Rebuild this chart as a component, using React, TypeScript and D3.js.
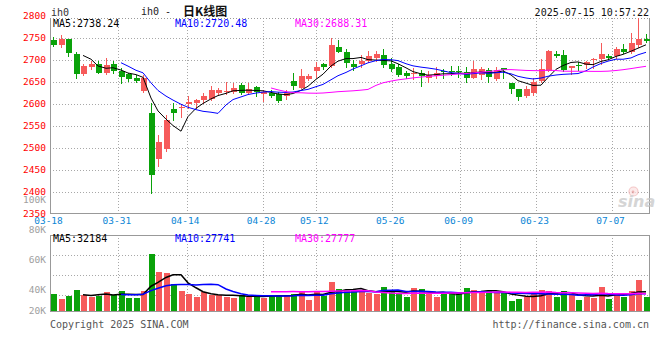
import React from 'react';
import * as d3 from 'd3';

// ---- data ----
const opens = [2745,2733,2747,2713,2668,2685,2692,2670,2691,2674,2668,2660,2630,2580,2475,2498,2589,2590,2599,2603,2608,2611,2624,2627,2627,2643,2626,2639,2622,2626,2623,2619,2652,2637,2657,2676,2691,2687,2730,2718,2691,2691,2698,2705,2711,2691,2683,2671,2668,2670,2659,2663,2674,2675,2676,2672,2660,2665,2677,2657,2681,2647,2634,2619,2626,2653,2675,2714,2711,2681,2689,2689,2700,2702,2709,2708,2725,2719,2733,2748];
const closes = [2734,2748,2715,2668,2687,2691,2671,2689,2674,2661,2657,2653,2658,2439,2514,2564,2580,2594,2605,2608,2619,2632,2632,2630,2637,2624,2634,2628,2627,2619,2606,2626,2641,2664,2664,2685,2685,2734,2719,2693,2685,2698,2709,2714,2689,2680,2665,2663,2671,2664,2665,2671,2672,2672,2673,2659,2680,2680,2662,2677,2677,2634,2615,2634,2651,2680,2721,2708,2677,2686,2686,2696,2702,2714,2704,2725,2719,2738,2748,2743];
const highs = [2752,2757,2748,2719,2690,2697,2697,2704,2697,2681,2671,2666,2665,2603,2530,2575,2603,2600,2618,2611,2626,2642,2637,2651,2647,2648,2647,2641,2632,2632,2627,2632,2670,2680,2668,2695,2694,2749,2745,2725,2700,2711,2720,2720,2725,2704,2691,2675,2681,2677,2674,2683,2679,2687,2686,2685,2697,2685,2681,2683,2681,2647,2634,2641,2659,2702,2723,2721,2723,2686,2695,2698,2704,2738,2714,2729,2736,2761,2795,2758];
const lows = [2732,2730,2708,2660,2667,2679,2670,2668,2671,2648,2653,2650,2628,2397,2460,2494,2564,2571,2590,2590,2602,2609,2623,2623,2624,2622,2623,2618,2606,2615,2605,2611,2633,2636,2655,2661,2679,2685,2718,2685,2677,2685,2695,2698,2685,2674,2664,2659,2656,2641,2651,2660,2660,2666,2662,2651,2659,2657,2651,2655,2660,2624,2609,2615,2621,2651,2674,2706,2674,2668,2677,2681,2681,2691,2702,2704,2715,2715,2730,2742];
const volumes = [37300,34000,36200,40000,36700,35100,36000,38900,36700,39300,34900,34900,39500,64000,52000,51500,43800,39500,37100,35500,38500,36700,36700,35500,34900,36700,35500,36700,34900,36000,36700,36700,37500,38900,33500,38900,36000,45500,40700,40000,39300,39300,38200,37100,42000,40000,37800,35500,41500,40700,37800,35500,37100,37100,38700,41300,40000,37800,39300,38900,37800,32700,34200,35500,38200,40000,39300,35500,39300,36700,33500,35500,34900,42200,34200,37300,35500,39300,46700,35500];

const tickIndex = [0, 9, 18, 28, 35, 45, 54, 64, 74];
const tickLabels = ['03-18', '03-31', '04-14', '04-28', '05-12', '05-26', '06-09', '06-23', '07-07'];
const priceTicks = [2800, 2750, 2700, 2650, 2600, 2550, 2500, 2450, 2400, 2350];
const priceGrid = [2750, 2700, 2650, 2600, 2550, 2500, 2450, 2400];
const volTicks = [100000, 80000, 60000, 40000, 20000];
const priceLegend = ['MA5:2738.24', 'MA10:2720.48', 'MA30:2688.31'];
const volLegend = ['MA5:32184', 'MA10:27741', 'MA30:27777'];
const maPeriods = [5, 10, 30];
const titleText = 'ih0';
const headerCode = 'ih0 -';
const headerName = '日K线图';
const timeText = '2025-07-15 10:57:22';
const copyText = 'Copyright 2025 SINA.COM';
const urlText = 'http://finance.sina.com.cn';

// ---- styles ----
const UP = '#f65a5a';
const DOWN = '#0aa20a';
const MA_COLORS = ['#000000', '#0000ff', '#ff00ff'];
const MA_X = [53, 175, 295];
const MONO = '"DejaVu Sans Mono", "Liberation Mono", monospace';
const GRID = '#a8a8a8';
const FRAME = '#999999';

const L = 50, R = 649;
const MT = 18, MB = 213.5;
const VT = 235, VB = 311;

function movingAvg(arr: number[], n: number): (number | null)[] {
  return arr.map((_, i) => (i < n - 1 ? null : (d3.mean(arr.slice(i - n + 1, i + 1)) as number)));
}

export default function App() {
  const n = closes.length;
  const xBand = d3.scaleBand<number>().domain(d3.range(n)).range([49.5, 649.5]);
  const cx = (i: number) => Math.round((xBand(i) as number) + xBand.bandwidth() / 2);
  const xGrid = d3.scaleLinear().domain([0, n - 1]).range([50, 650]);
  const yP = d3.scaleLinear().domain([2350, 2800]).range([214, 16]);
  const yV = d3.scaleLinear().domain([0, 100000]).range([350, 200]);

  const priceMA = maPeriods.map((p) => movingAvg(closes, p));
  const volMA = maPeriods.map((p) => movingAvg(volumes, p));

  const lineP = d3.line<number | null>()
    .defined((d) => d != null)
    .x((_, i) => cx(i))
    .y((d) => yP(d as number));
  const lineV = d3.line<number | null>()
    .defined((d) => d != null)
    .x((_, i) => cx(i))
    .y((d) => yV(d as number));

  const crisp = (v: number) => Math.round(v) + 0.5;

  return (
    <svg width={660} height={360} style={{ position: 'fixed', left: 0, top: 0, background: '#fff' }}
      fontFamily={MONO}>
      <rect x={0} y={0} width={660} height={360} fill="#fff" />
      {/* header */}
      <text x={51} y={16} fontSize={10} fill="#333">{titleText}</text>
      <text x={141} y={15} fontSize={10} fill="#222">{headerCode}</text>
      <text x={183} y={15.5} fontSize={12} fontWeight="bold" fill="#111" fontFamily='"Noto Sans CJK SC", sans-serif'>{headerName}</text>
      <text x={649} y={16} fontSize={10} fill="#111" textAnchor="end">{timeText}</text>

      {/* main grid */}
      <g shapeRendering="crispEdges">
        {priceGrid.map((p) => (
          <line key={'pg' + p} x1={L} x2={R} y1={crisp(yP(p))} y2={crisp(yP(p))} stroke={GRID} strokeDasharray="1 2" />
        ))}
        {tickIndex.slice(1).map((ti) => (
          <line key={'vg' + ti} x1={crisp(xGrid(ti))} x2={crisp(xGrid(ti))} y1={MT} y2={MB} stroke={GRID} strokeDasharray="1 2" />
        ))}
        {tickIndex.slice(1).map((ti) => (
          <line key={'vgv' + ti} x1={crisp(xGrid(ti))} x2={crisp(xGrid(ti))} y1={VT} y2={VB} stroke={GRID} strokeDasharray="1 2" />
        ))}
        {[1, 2, 3].map((k) => (
          <line key={'vh' + k} x1={L} x2={R} y1={VT + 20 * k + 0.5} y2={VT + 20 * k + 0.5} stroke={GRID} strokeDasharray="1 2" />
        ))}
        {/* frames */}
        <line x1={L} x2={R} y1={MT + 0.5} y2={MT + 0.5} stroke={FRAME} strokeDasharray="1 2" />
        <line x1={L + 0.5} x2={L + 0.5} y1={MT} y2={MB} stroke={FRAME} />
        <line x1={L} x2={R + 1} y1={MB} y2={MB} stroke={FRAME} />
        <line x1={R + 0.5} x2={R + 0.5} y1={MT} y2={MB} stroke={FRAME} />
        <rect x={L + 0.5} y={VT + 0.5} width={R - L} height={VB - VT} fill="none" stroke={FRAME} />
      </g>

      {/* watermark */}
      <g opacity={0.75}>
        <circle cx={633.5} cy={191.5} r={4.5} fill="#fbe4e4" stroke="#f2b4b4" strokeWidth={1.2} />
        <circle cx={633} cy={192} r={1.4} fill="#e59a9a" />
        <text x={618} y={207} fontSize={16} fontStyle="italic" fontWeight="bold" fill="#c8c8c8"
          fontFamily='"DejaVu Sans", sans-serif'>sina</text>
      </g>

      {/* candles */}
      <g shapeRendering="crispEdges">
        {closes.map((c, i) => {
          const o = opens[i];
          const up = c >= o;
          const col = up ? UP : DOWN;
          const x = cx(i);
          const top = Math.round(yP(Math.max(o, c)));
          const bot = Math.round(yP(Math.min(o, c)));
          return (
            <g key={'c' + i}>
              <line x1={x + 0.5} x2={x + 0.5} y1={Math.round(yP(highs[i]))} y2={Math.round(yP(lows[i])) + 1} stroke={col} />
              <rect x={x - 2} y={top} width={6} height={Math.max(1, bot - top)} fill={col} />
            </g>
          );
        })}
      </g>

      {/* price MAs */}
      {priceMA.map((s, k) => (
        <path key={'pm' + k} d={lineP(s) || ''} fill="none" stroke={MA_COLORS[k]} strokeWidth={1} />
      ))}

      {/* volume bars */}
      <g shapeRendering="crispEdges">
        {volumes.map((v, i) => {
          const up = closes[i] >= opens[i];
          const x = cx(i);
          const top = Math.round(yV(v));
          return <rect key={'v' + i} x={x - 2} y={top} width={6} height={VB - top} fill={up ? UP : DOWN} />;
        })}
      </g>
      {volMA.map((s, k) => (
        <path key={'vm' + k} d={lineV(s) || ''} fill="none" stroke={MA_COLORS[k]} strokeWidth={1.5} />
      ))}

      {/* legends */}
      {priceLegend.map((t, k) => (
        <text key={'pl' + k} x={MA_X[k]} y={27} fontSize={10} fill={MA_COLORS[k]}>{t}</text>
      ))}
      {volLegend.map((t, k) => (
        <text key={'vl' + k} x={MA_X[k]} y={242} fontSize={10} fill={MA_COLORS[k]}>{t}</text>
      ))}

      {/* axes labels */}
      {priceTicks.map((p) => (
        <text key={'pt' + p} x={46} y={yP(p)} dy="0.35em" fontSize={9.5} fill="#ff0000" textAnchor="end">{p}</text>
      ))}
      {volTicks.map((v) => (
        <text key={'vt' + v} x={46} y={Math.min(yV(v), VB)} dy="0.35em" fontSize={9.5} fill="#a0a0a0" textAnchor="end">
          {v / 1000 + 'K'}
        </text>
      ))}
      {tickIndex.map((ti, k) => (
        <text key={'xt' + ti} x={xGrid(ti) - 1.5} y={221} dy="0.35em" fontSize={9.5} fill="#0b86d6" textAnchor="middle">
          {tickLabels[k]}
        </text>
      ))}

      <text x={50} y={328} fontSize={10} fill="#555">{copyText}</text>
      <text x={649} y={328} fontSize={10} fill="#555" textAnchor="end">{urlText}</text>
    </svg>
  );
}
